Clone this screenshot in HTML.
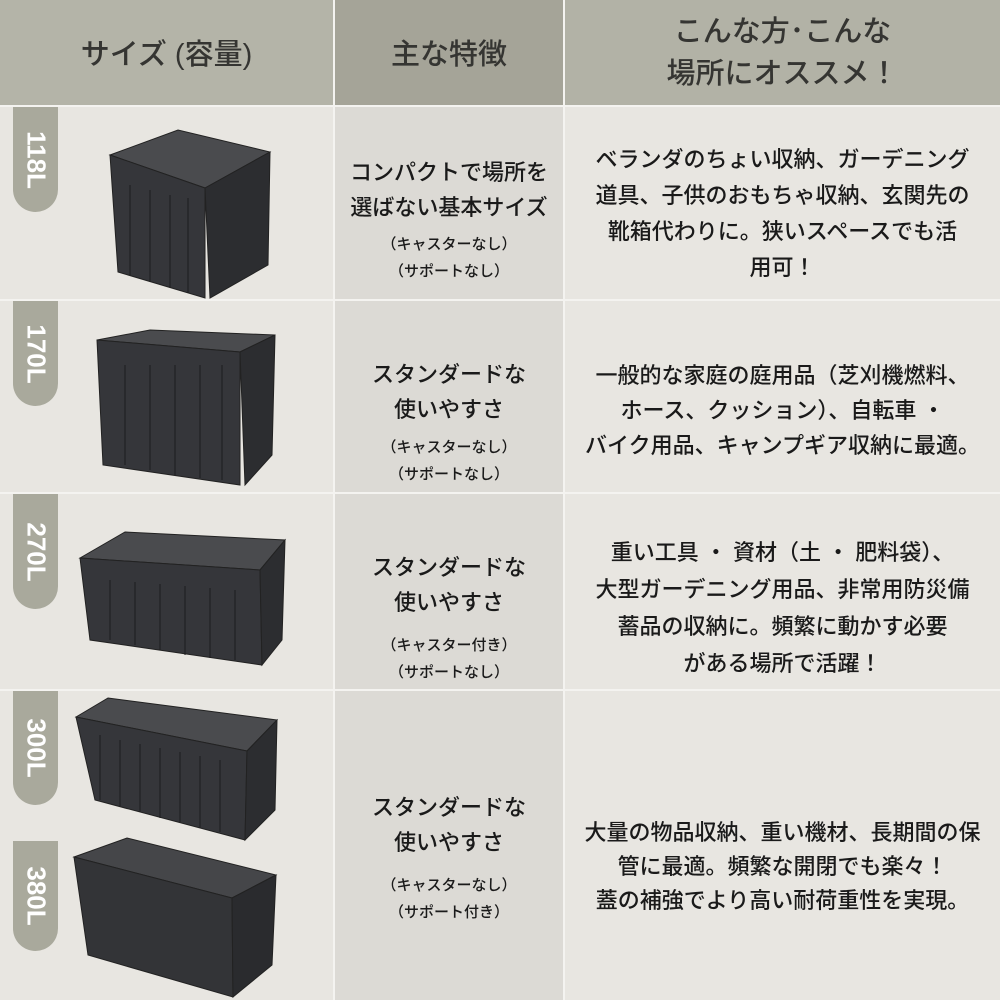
<!DOCTYPE html>
<html><head><meta charset="utf-8"><style>
*{margin:0;padding:0;box-sizing:border-box}
body{width:1000px;height:1000px;position:relative;background:#e8e6e1;font-family:"Liberation Sans","Noto Sans CJK JP",sans-serif;color:#1a1a1a;overflow:hidden}
.a{position:absolute}
.c{display:flex;flex-direction:column;align-items:center;justify-content:center;text-align:center}
.t{display:flex;flex-direction:column;align-items:center;justify-content:flex-start;text-align:center}
.h{font-size:29px;color:#353532;line-height:42px;font-weight:500}
.m{font-size:22px;line-height:35px;font-weight:500}
.s{font-size:15px;line-height:27px;font-weight:500}
.tab{position:absolute;left:13px;width:45px;background:#a9a99c;border-radius:0 0 23px 23px;color:#fff;font-weight:bold;font-size:26px}
.tab span{position:absolute;left:50%;top:50%;transform:translate(-50%,-50%) rotate(90deg);white-space:nowrap}
.hl{position:absolute;left:0;width:1000px;height:2px;background:#f4f3f0}
</style></head><body>
<div class="a" style="left:0;top:0;width:333px;height:105px;background:#b4b4a8"></div>
<div class="a" style="left:335px;top:0;width:228px;height:105px;background:#a5a498"></div>
<div class="a" style="left:565px;top:0;width:435px;height:105px;background:#b2b2a6"></div>
<div class="a" style="left:335px;top:107px;width:228px;height:893px;background:#dcdad5"></div>
<div class="a" style="left:333px;top:0;width:2px;height:1000px;background:#f4f3f0"></div>
<div class="a" style="left:563px;top:0;width:2px;height:1000px;background:#f4f3f0"></div>
<div class="hl" style="top:105px"></div>
<div class="hl" style="top:299px"></div>
<div class="hl" style="top:492px"></div>
<div class="hl" style="top:689px"></div>

<div class="a c h" style="left:0;top:2px;width:333px;height:105px">サイズ (容量)</div>
<div class="a c h" style="left:335px;top:2px;width:228px;height:105px">主な特徴</div>
<div class="a c h" style="left:565px;top:0;width:435px;height:105px">こんな方･こんな<br>場所にオススメ！</div>

<div class="tab" style="top:107px;height:105px"><span>118L</span></div>
<div class="tab" style="top:301px;height:105px"><span>170L</span></div>
<div class="tab" style="top:494px;height:115px"><span>270L</span></div>
<div class="tab" style="top:691px;height:114px"><span>300L</span></div>
<div class="tab" style="top:841px;height:110px"><span>380L</span></div>

<svg class="a" style="left:0;top:0" width="333" height="1000">
<g stroke="#222" stroke-width="1">
<polygon points="110,155 178,130 270,152 205,188" fill="#4a4b4e"/>
<polygon points="110,155 205,188 205,298 118,272" fill="#35363a"/>
<polygon points="205,188 270,152 268,265 210,298" fill="#2c2d30"/>
<polygon points="97,340 150,330 275,335 240,352" fill="#4a4b4e"/>
<polygon points="97,340 240,352 240,485 103,465" fill="#35363a"/>
<polygon points="240,352 275,335 272,455 245,485" fill="#2c2d30"/>
<polygon points="80,558 125,532 285,540 260,570" fill="#4a4b4e"/>
<polygon points="80,558 260,570 262,665 90,640" fill="#35363a"/>
<polygon points="260,570 285,540 282,640 262,665" fill="#2c2d30"/>
<polygon points="76,717 108,698 277,720 247,751" fill="#4a4b4e"/>
<polygon points="76,717 247,751 245,840 95,800" fill="#35363a"/>
<polygon points="247,751 277,720 275,810 245,840" fill="#2c2d30"/>
<polygon points="74,857 127,838 276,875 232,898" fill="#454649"/>
<polygon points="74,857 232,898 233,997 88,955" fill="#333437"/>
<polygon points="232,898 276,875 272,965 233,997" fill="#2a2b2e"/>
</g>
<g stroke="#1c1c1e" stroke-width="1">
<line x1="130" y1="185" x2="130" y2="275"/><line x1="150" y1="190" x2="150" y2="282"/><line x1="170" y1="195" x2="170" y2="288"/><line x1="188" y1="198" x2="188" y2="293"/>
<line x1="125" y1="365" x2="125" y2="465"/><line x1="150" y1="365" x2="150" y2="470"/><line x1="175" y1="365" x2="175" y2="475"/><line x1="200" y1="365" x2="200" y2="478"/><line x1="222" y1="365" x2="222" y2="480"/>
<line x1="110" y1="580" x2="110" y2="640"/><line x1="135" y1="582" x2="135" y2="645"/><line x1="160" y1="584" x2="160" y2="650"/><line x1="185" y1="586" x2="185" y2="655"/><line x1="210" y1="588" x2="210" y2="658"/><line x1="235" y1="590" x2="235" y2="660"/>
<line x1="100" y1="735" x2="100" y2="800"/><line x1="120" y1="740" x2="120" y2="806"/><line x1="140" y1="744" x2="140" y2="812"/><line x1="160" y1="748" x2="160" y2="818"/><line x1="180" y1="752" x2="180" y2="822"/><line x1="200" y1="756" x2="200" y2="828"/><line x1="220" y1="760" x2="220" y2="832"/>
</g>
</svg>

<div class="a t" style="left:335px;top:155px;width:228px"><div class="m">コンパクトで場所を<br>選ばない基本サイズ</div><div class="s" style="margin-top:6px">（キャスターなし）<br>（サポートなし）</div></div>
<div class="a t" style="left:335px;top:357px;width:228px"><div class="m">スタンダードな<br>使いやすさ</div><div class="s" style="margin-top:7px">（キャスターなし）<br>（サポートなし）</div></div>
<div class="a t" style="left:335px;top:550px;width:228px"><div class="m">スタンダードな<br>使いやすさ</div><div class="s" style="margin-top:12px">（キャスター付き）<br>（サポートなし）</div></div>
<div class="a t" style="left:335px;top:790px;width:228px"><div class="m">スタンダードな<br>使いやすさ</div><div class="s" style="margin-top:12px">（キャスターなし）<br>（サポート付き）</div></div>

<div class="a t m" style="left:565px;top:142px;width:435px;line-height:36px">ベランダのちょい収納、ガーデニング<br>道具、子供のおもちゃ収納、玄関先の<br>靴箱代わりに。狭いスペースでも活<br>用可！</div>
<div class="a t m" style="left:565px;top:358px;width:435px;line-height:35px">一般的な家庭の庭用品（芝刈機燃料、<br>ホース、クッション）、自転車 ・<br>バイク用品、キャンプギア収納に最適。</div>
<div class="a t m" style="left:565px;top:534px;width:435px;line-height:37px">重い工具 ・ 資材（土 ・ 肥料袋）、<br>大型ガーデニング用品、非常用防災備<br>蓄品の収納に。頻繁に動かす必要<br>がある場所で活躍！</div>
<div class="a t m" style="left:565px;top:816px;width:435px;line-height:34px">大量の物品収納、重い機材、長期間の保<br>管に最適。頻繁な開閉でも楽々！<br>蓋の補強でより高い耐荷重性を実現。</div>
</body></html>
